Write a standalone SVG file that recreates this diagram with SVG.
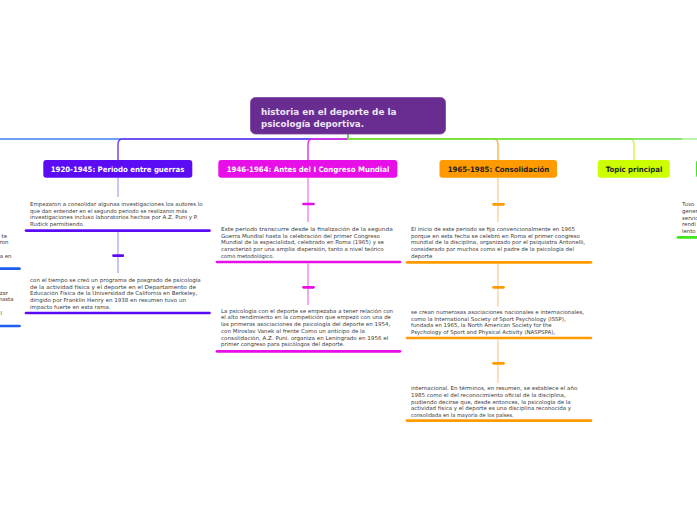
<svg xmlns="http://www.w3.org/2000/svg" width="697" height="520" viewBox="0 0 697 520">
<style>
.t{font-family:"DejaVu Sans","Liberation Sans",sans-serif;font-size:5.4px;fill:#3a3a3a}
.h{font-family:"DejaVu Sans","Liberation Sans",sans-serif;font-size:7.4px;font-weight:bold}
.c{font-family:"DejaVu Sans","Liberation Sans",sans-serif;font-size:9px;font-weight:bold;fill:#eee6f3}
.ln{fill:none;stroke-width:1.4}
.bar{stroke-width:2.7;stroke-linecap:round}
.v{stroke-width:1.4}
</style>
<rect width="697" height="520" fill="#ffffff"/>
<g id="connectors">
  <path class="ln" d="M348,134 V139 H-5" stroke="#3c82ee"/>
  <path class="ln" d="M348,139 H123 Q118,139 118,144 V160" stroke="#6b3cf2"/>
  <path class="ln" d="M348,139 H313 Q308,139 308,144 V160" stroke="#e22ee2"/>
  <path class="ln" d="M348,139 H493 Q498,139 498,144 V160" stroke="#ffb24a"/>
  <path class="ln" d="M348,139 H629 Q634,139 634,144 V160" stroke="#d4f24a"/>
  <path class="ln" d="M348,134 V139 H682" stroke="#5fe03a"/>
  <path class="ln" d="M682,139 H700" stroke="#a2ef85"/>
  <g stroke="#bba8f5" class="v">
    <line x1="118" y1="178" x2="118" y2="197"/>
    <line x1="118" y1="232" x2="118" y2="273"/>
  </g>
  <g stroke="#f283f2" class="v">
    <line x1="308" y1="178" x2="308" y2="222"/>
    <line x1="308" y1="263.5" x2="308" y2="305"/>
  </g>
  <g stroke="#ffd29c" class="v">
    <line x1="498" y1="178" x2="498" y2="222"/>
    <line x1="498" y1="263.5" x2="498" y2="306.5"/>
    <line x1="498" y1="339.5" x2="498" y2="383"/>
  </g>
</g>
<g id="center">
  <rect x="250.5" y="97.5" width="195" height="36.5" rx="5" fill="#692c91" stroke="#7b45a0" stroke-width="0.8"/>
  <text class="c" x="261" y="115" textLength="135.5" lengthAdjust="spacingAndGlyphs">historia en el deporte de la</text>
  <text class="c" x="261" y="126.5" textLength="103" lengthAdjust="spacingAndGlyphs">psicología deportiva.</text>
</g>
<g id="n1920">
  <rect x="43.3" y="160" width="149" height="17.7" rx="3" fill="#5b0cf5"/>
  <text class="h" x="50.7" y="171.7" fill="#ffffff" textLength="133.6" lengthAdjust="spacingAndGlyphs">1920-1945: Periodo entre guerras</text>
</g>
<g id="n1920a">
  <text class="t" x="30" y="206" textLength="172.7" lengthAdjust="spacingAndGlyphs">Empezaron a consolidar algunas investigaciones los autores lo</text>
  <text class="t" x="30" y="212.7" textLength="157.3" lengthAdjust="spacingAndGlyphs">que dan entender en el segundo periodo se realizaron más</text>
  <text class="t" x="30" y="219.4" textLength="168" lengthAdjust="spacingAndGlyphs">investigaciones incluso laboratorios hechos por A.Z. Puni y P.</text>
  <text class="t" x="30" y="226.1" textLength="52.7" lengthAdjust="spacingAndGlyphs">Rudick permitiendo</text>
  <line class="bar" x1="26" y1="230.6" x2="209.5" y2="230.6" stroke="#5b0cf5"/>
</g>
<g id="n1920b">
  <line class="bar" x1="113.5" y1="255.7" x2="122.8" y2="255.7" stroke="#5b0cf5"/>
</g>
<g id="n1920c">
  <text class="t" x="30" y="282" textLength="170.7" lengthAdjust="spacingAndGlyphs">con el tiempo se creó un programa de posgrado de psicología</text>
  <text class="t" x="30" y="288.7" textLength="166" lengthAdjust="spacingAndGlyphs">de la actividad física y el deporte en el Departamento de</text>
  <text class="t" x="30" y="295.4" textLength="167.3" lengthAdjust="spacingAndGlyphs">Educación Física de la Universidad de California en Berkeley,</text>
  <text class="t" x="30" y="302.1" textLength="156" lengthAdjust="spacingAndGlyphs">dirigido por Franklin Henry en 1938 en resumen tuvo un</text>
  <text class="t" x="30" y="308.8" textLength="80.7" lengthAdjust="spacingAndGlyphs">impacto fuerte en esta rama.</text>
  <line class="bar" x1="26" y1="313" x2="209.5" y2="313" stroke="#5b0cf5"/>
</g>
<g id="n1946">
  <rect x="218.3" y="160" width="179" height="17.7" rx="3" fill="#e80ee8"/>
  <text class="h" x="226.7" y="171.7" fill="#ffffff" textLength="162.7" lengthAdjust="spacingAndGlyphs">1946-1964: Antes del I Congreso Mundial</text>
</g>
<g id="n1946a">
  <line class="bar" x1="303.5" y1="204" x2="313.5" y2="204" stroke="#e80ee8"/>
</g>
<g id="n1946b">
  <text class="t" x="221" y="231" textLength="171.7" lengthAdjust="spacingAndGlyphs">Este periodo transcurre desde la finalización de la segunda</text>
  <text class="t" x="221" y="237.7" textLength="159" lengthAdjust="spacingAndGlyphs">Guerra Mundial hasta la celebración del primer Congreso</text>
  <text class="t" x="221" y="244.4" textLength="163" lengthAdjust="spacingAndGlyphs">Mundial de la especialidad, celebrado en Roma (1965) y se</text>
  <text class="t" x="221" y="251.1" textLength="162.7" lengthAdjust="spacingAndGlyphs">caracterizó por una amplia dispersión, tanto a nivel teórico</text>
  <text class="t" x="221" y="257.8" textLength="53" lengthAdjust="spacingAndGlyphs">como metodológico.</text>
  <line class="bar" x1="217" y1="262" x2="400" y2="262" stroke="#e80ee8"/>
</g>
<g id="n1946c">
  <line class="bar" x1="303.5" y1="287.3" x2="313.5" y2="287.3" stroke="#e80ee8"/>
</g>
<g id="n1946d">
  <text class="t" x="221" y="312.7" textLength="172" lengthAdjust="spacingAndGlyphs">La psicología con el deporte se empezaba a tener relación con</text>
  <text class="t" x="221" y="319.4" textLength="170" lengthAdjust="spacingAndGlyphs">el alto rendimiento en la competición que empezó con una de</text>
  <text class="t" x="221" y="326.1" textLength="169.3" lengthAdjust="spacingAndGlyphs">las primeras asociaciones de psicología del deporte en 1954,</text>
  <text class="t" x="221" y="332.8" textLength="144" lengthAdjust="spacingAndGlyphs">con Miroslav Vanek al frente Como un anticipo de la</text>
  <text class="t" x="221" y="339.5" textLength="167.3" lengthAdjust="spacingAndGlyphs">consolidación, A.Z. Puni. organiza en Leningrado en 1956 el</text>
  <text class="t" x="221" y="346.2" textLength="123.7" lengthAdjust="spacingAndGlyphs">primer congreso para psicólogos del deporte.</text>
  <line class="bar" x1="217" y1="351.3" x2="400" y2="351.3" stroke="#e80ee8"/>
</g>
<g id="n1965">
  <rect x="439.5" y="160" width="117.5" height="17.7" rx="3" fill="#ff9a00"/>
  <text class="h" x="447.7" y="171.7" fill="#1e1e1e" textLength="101.6" lengthAdjust="spacingAndGlyphs">1965-1985: Consolidación</text>
</g>
<g id="n1965a">
  <line class="bar" x1="493.5" y1="204.3" x2="503.5" y2="204.3" stroke="#ff9a00"/>
</g>
<g id="n1965b">
  <text class="t" x="411" y="231" textLength="164" lengthAdjust="spacingAndGlyphs">El inicio de este periodo se fija convencionalmente en 1965</text>
  <text class="t" x="411" y="237.7" textLength="169" lengthAdjust="spacingAndGlyphs">porque en esta fecha se celebró en Roma el primer congreso</text>
  <text class="t" x="411" y="244.4" textLength="174" lengthAdjust="spacingAndGlyphs">mundial de la disciplina, organizado por el psiquiatra Antonelli,</text>
  <text class="t" x="411" y="251.1" textLength="163" lengthAdjust="spacingAndGlyphs">considerado por muchos como el padre de la psicología del</text>
  <text class="t" x="411" y="257.8" textLength="21.3" lengthAdjust="spacingAndGlyphs">deporte</text>
  <line class="bar" x1="407" y1="262.3" x2="591" y2="262.3" stroke="#ff9a00"/>
</g>
<g id="n1965c">
  <line class="bar" x1="493.5" y1="287.3" x2="503.5" y2="287.3" stroke="#ff9a00"/>
</g>
<g id="n1965d">
  <text class="t" x="411" y="314" textLength="173" lengthAdjust="spacingAndGlyphs">se crean numerosas asociaciones nacionales e internacionales,</text>
  <text class="t" x="411" y="320.7" textLength="154.7" lengthAdjust="spacingAndGlyphs">como la International Society of Sport Psychology (ISSP),</text>
  <text class="t" x="411" y="327.4" textLength="140.7" lengthAdjust="spacingAndGlyphs">fundada en 1965, la North American Society for the</text>
  <text class="t" x="411" y="334.1" textLength="144" lengthAdjust="spacingAndGlyphs">Psychology of Sport and Physical Activity (NASPSPA),</text>
  <line class="bar" x1="407" y1="338" x2="591" y2="338" stroke="#ff9a00"/>
</g>
<g id="n1965e">
  <line class="bar" x1="493.5" y1="363.3" x2="503.5" y2="363.3" stroke="#ff9a00"/>
</g>
<g id="n1965f">
  <text class="t" x="411" y="390.4" textLength="166.3" lengthAdjust="spacingAndGlyphs">internacional. En términos, en resumen, se establece el año</text>
  <text class="t" x="411" y="397" textLength="154.7" lengthAdjust="spacingAndGlyphs">1985 como el del reconocimiento oficial de la disciplina,</text>
  <text class="t" x="411" y="403.6" textLength="159.7" lengthAdjust="spacingAndGlyphs">pudiendo decirse que, desde entonces, la psicología de la</text>
  <text class="t" x="411" y="410.2" textLength="160" lengthAdjust="spacingAndGlyphs">actividad física y el deporte es una disciplina reconocida y</text>
  <text class="t" x="411" y="416.8" textLength="102.7" lengthAdjust="spacingAndGlyphs">consolidada en la mayoría de los países.</text>
  <line class="bar" x1="407" y1="420.7" x2="591" y2="420.7" stroke="#ff9a00"/>
</g>
<g id="ntopic">
  <rect x="597.7" y="160" width="72" height="17.7" rx="3" fill="#ccff00"/>
  <text class="h" x="605.7" y="171.7" fill="#1e1e1e" textLength="56.6" lengthAdjust="spacingAndGlyphs">Topic principal</text>
</g>
<g id="ngreen">
  <rect x="696" y="160" width="60" height="17.7" rx="3" fill="#3ee81c"/>
</g>
<g id="ngreena">
  <text class="t" x="682" y="206.3">Tuvo</text>
  <text class="t" x="682" y="213">gener</text>
  <text class="t" x="682" y="219.7">servic</text>
  <text class="t" x="682" y="226.4">rendi</text>
  <text class="t" x="682" y="233.1">lento</text>
  <line class="bar" x1="678" y1="237.3" x2="700" y2="237.3" stroke="#3ee81c"/>
</g>
<g id="nblue">
  <text class="t" x="7" y="237.7" text-anchor="end">te</text>
  <text class="t" x="8.5" y="244.4" text-anchor="end">ron</text>
  <text class="t" x="11.5" y="257.8" text-anchor="end">a en</text>
  <line class="bar" x1="-3" y1="268.7" x2="19.5" y2="268.7" stroke="#1f5cf0"/>
  <text class="t" x="8" y="294.7" text-anchor="end">zar</text>
  <text class="t" x="13.5" y="301.4" text-anchor="end">hasta</text>
  <text class="t" x="2" y="314.8" text-anchor="end">l</text>
  <line class="bar" x1="-3" y1="326" x2="19.5" y2="326" stroke="#1f5cf0"/>
</g>
</svg>
